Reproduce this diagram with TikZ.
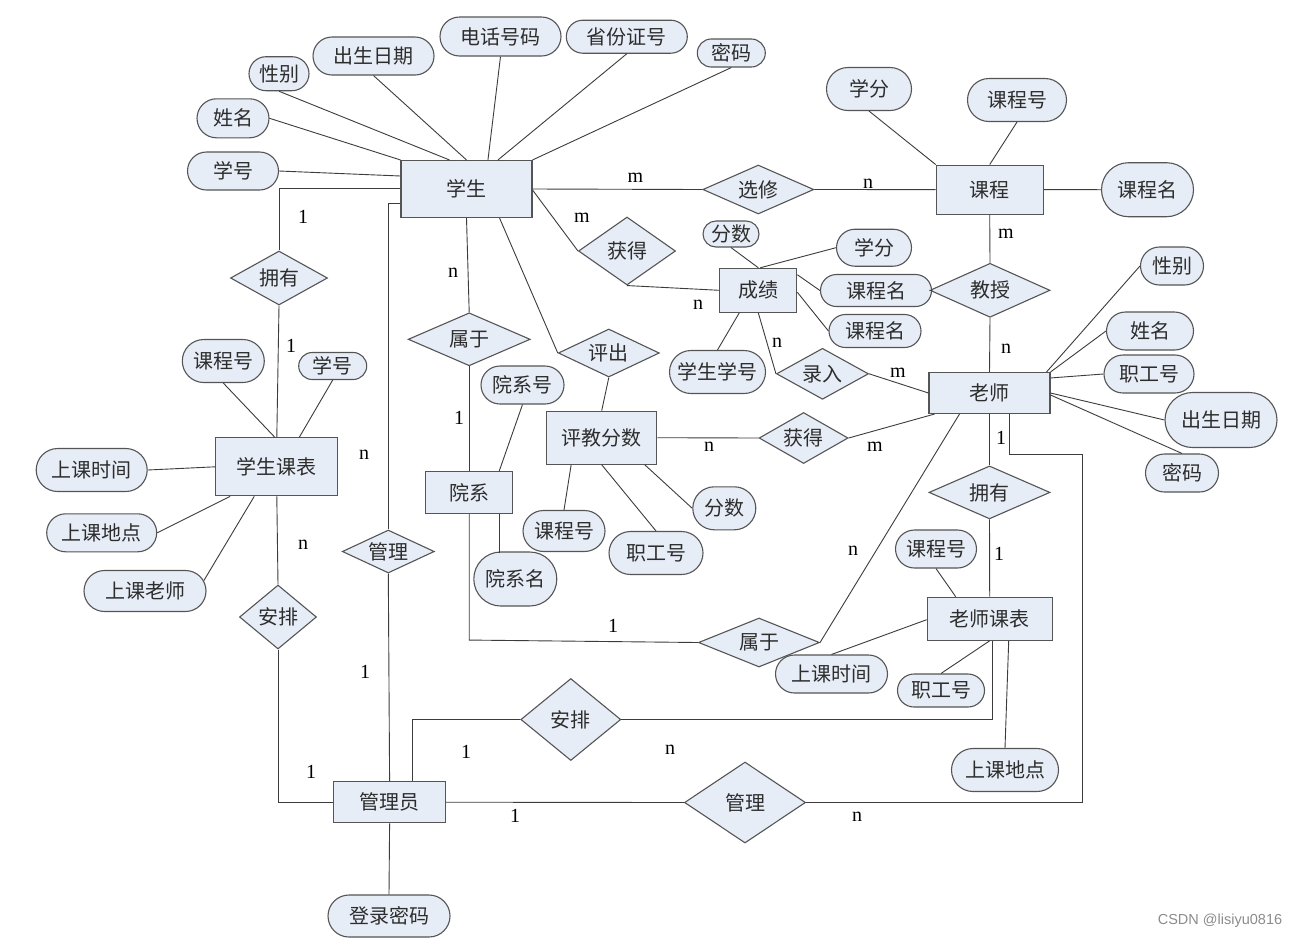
\documentclass[tikz,border=0pt]{standalone}
\usepackage{fontspec}
\setmainfont{Liberation Serif}
\newfontfamily\cjk{Noto Sans CJK SC}
\newfontfamily\wmfont{Liberation Sans}
\usetikzlibrary{shapes.geometric,shapes.misc,calc}
\definecolor{boxfill}{RGB}{231,237,247}
\definecolor{boxline}{RGB}{85,85,85}
\definecolor{linkline}{RGB}{60,60,60}
\definecolor{txt}{RGB}{45,45,45}
\begin{document}
\begin{tikzpicture}[x=1pt,y=-1pt,
 base/.style={draw=boxline, fill=boxfill, line width=1.1pt, inner sep=0pt, text=txt, font=\cjk\fontsize{20}{24}\selectfont},
 ent/.style n args={2}{base, rectangle, minimum width=#1pt, minimum height=#2pt},
 attr/.style n args={2}{base, rounded rectangle, minimum width=#1pt, minimum height=#2pt},
 rel/.style n args={3}{base, diamond, aspect=#3, minimum width=#1pt, minimum height=#2pt},
 lab/.style={font=\fontsize{20}{24}\selectfont, text=black, inner sep=0pt},
 link/.style={draw=linkline, line width=0.9pt}
]
\fill[white] (0,0) rectangle (1303,938);
\useasboundingbox (0,0) rectangle (1303,938);

% entities
\node[ent={131}{57}] (stu) at (466.5,189) {学生};
\node[ent={107}{49}] (course) at (989.7,189.6) {课程};
\node[ent={77}{44}] (score) at (758.3,290.3) {成绩};
\node[ent={121}{41}] (teacher) at (989.5,393) {老师};
\node[ent={122}{58}] (sct) at (276.8,466.8) {学生课表};
\node[ent={87}{42}] (dept) at (469.2,492.5) {院系};
\node[ent={110}{53}] (eval) at (601.7,437.7) {评教分数};
\node[ent={125}{43}] (tct) at (989.7,618.7) {老师课表};
\node[ent={112}{41}] (admin) at (389.6,802.2) {管理员};

% relationships
\node[rel={111}{49}{2}] (xuanxiu) at (758.3,189.5) {选修};
\node[rel={97}{68}{2}] (huode1) at (627,251) {获得};
\node[rel={120}{54}{2}] (jiaoshou) at (990,290.3) {教授};
\node[rel={97}{54}{2}] (yongyou1) at (279,278) {拥有};
\node[rel={122}{53}{2}] (shuyu1) at (469.2,339.3) {属于};
\node[rel={101}{48}{2}] (pingchu) at (608.8,353) {评出};
\node[rel={92}{51}{2}] (luru) at (822.5,373.8) {录入};
\node[rel={89}{51}{2}] (huode2) at (803.6,438) {获得};
\node[rel={121}{53}{2}] (yongyou2) at (989.5,492.4) {拥有};
\node[rel={92}{43}{2}] (guanli1) at (388.3,551.5) {管理};
\node[rel={77}{64}{1.2}] (anpai1) at (278,617) {安排};
\node[rel={121}{49}{2}] (shuyu2) at (759,642.5) {属于};
\node[rel={100}{82}{1.2}] (anpai2) at (570.8,719.5) {安排};
\node[rel={121}{81}{2}] (guanli2) at (745,802.5) {管理};

% student attributes
\node[attr={91}{38}] (s_xh) at (233,171) {学号};
\node[attr={72}{39}] (s_xm) at (233,118.3) {姓名};
\node[attr={60}{34}] (s_xb) at (279,73.7) {性别};
\node[attr={121}{38}] (s_csrq) at (373.5,56) {出生日期};
\node[attr={121}{39}] (s_dh) at (500.5,36.5) {电话号码};
\node[attr={121}{33}] (s_sf) at (626.8,36.7) {省份证号};
\node[attr={68}{28}] (s_mm) at (731.3,53) {密码};
% course attributes
\node[attr={85}{43}] (c_xf) at (869,89) {学分};
\node[attr={99}{43}] (c_kch) at (1017,100) {课程号};
\node[attr={92}{54}] (c_kcm) at (1147.5,189.7) {课程名};
% score attributes
\node[attr={56}{26}] (g_fs) at (731,234) {分数};
\node[attr={75}{37}] (g_xf) at (874,247.7) {学分};
\node[attr={111}{32}] (g_kcm1) at (876,290.5) {课程名};
\node[attr={92}{33}] (g_kcm2) at (875,331) {课程名};
\node[attr={96}{43}] (g_xsxh) at (717.5,372) {学生学号};
% teacher attributes
\node[attr={63}{38}] (t_xb) at (1172,266) {性别};
\node[attr={87}{38}] (t_xm) at (1150,331) {姓名};
\node[attr={90}{38}] (t_zgh) at (1149,374) {职工号};
\node[attr={112}{55}] (t_csrq) at (1221,420) {出生日期};
\node[attr={73}{38}] (t_mm) at (1182,473) {密码};
% student timetable attributes
\node[attr={82}{43}] (sc_kch) at (223.3,361) {课程号};
\node[attr={68}{27}] (sc_xh) at (332.7,366) {学号};
\node[attr={111}{43}] (sc_sksj) at (91.7,470) {上课时间};
\node[attr={110}{38}] (sc_skdd) at (101.7,532.8) {上课地点};
\node[attr={122}{41}] (sc_skls) at (145,591) {上课老师};
% department attributes
\node[attr={83}{38}] (d_yxh) at (522.5,385) {院系号};
\node[attr={83}{54}] (d_yxm) at (515.3,579) {院系名};
% evaluation attributes
\node[attr={82}{41}] (e_kch) at (564,531) {课程号};
\node[attr={94}{43}] (e_zgh) at (656,553) {职工号};
\node[attr={63}{43}] (e_fs) at (724.3,508.3) {分数};
% teacher timetable attributes
\node[attr={81}{38}] (tc_kch) at (936,549) {课程号};
\node[attr={112}{38}] (tc_sksj) at (831.5,674) {上课时间};
\node[attr={87}{33}] (tc_zgh) at (941,690.5) {职工号};
\node[attr={107}{43}] (tc_skdd) at (1005,770) {上课地点};
% admin attribute
\node[attr={122}{42}] (a_dlmm) at (389,916) {登录密码};

% student links
\draw[link] (s_xh.east) -- ($(stu.west)+(0,-13)$);
\draw[link] (s_xm.east) -- (stu.north west);
\draw[link] (s_xb.south) -- ($(stu.north west)+(49,0)$);
\draw[link] (s_csrq.south) -- (stu.north);
\draw[link] (s_dh.south) -- ($(stu.north west)+(87.5,0)$);
\draw[link] (s_sf.south) -- ($(stu.north west)+(97.5,0)$);
\draw[link] (s_mm.south) -- (stu.north east);
\draw[link] ($(stu.west)+(0,-1)$) -| (yongyou1.north);
\draw[link] ($(stu.south west)+(0,-15)$) -| (guanli1.north);
\draw[link] (guanli1.south) -- (admin.north);
\draw[link] (stu.east) -- (xuanxiu.west);
\draw[link] ($(stu.east)+(0,1)$) -- (huode1.west);
\draw[link] (huode1.south) -- (score.west);
\draw[link] ($(stu.south east)+(-33,0)$) -- (pingchu.west);
\draw[link] (pingchu.south) -- (eval.north);
\draw[link] (stu.south) -- (shuyu1.north);
\draw[link] (shuyu1.south) -- (dept.north);
% department
\draw[link] (dept.south) -- ++(0,126) -- (shuyu2.west);
\draw[link] (shuyu2.east) -- ($(teacher.south west)+(31,0)$);
\draw[link] (d_yxh.south) -- ($(dept.north east)+(-14,0)$);
\draw[link] ($(dept.south east)+(-14,0)$) -- ++(0,38.6);
% evaluation
\draw[link] (eval.east) -- (huode2.west);
\draw[link] (huode2.east) -- ($(teacher.south west)+(6,0)$);
\draw[link] (e_kch.north) -- ($(eval.south west)+(25,0)$);
\draw[link] (e_zgh.north) -- (eval.south);
\draw[link] (e_fs.west) -- ($(eval.south east)+(-12.5,0)$);
% score
\draw[link] (score.south) -- (luru.west);
\draw[link] (luru.east) -- (teacher.west);
\draw[link] (g_fs.south) -- (score.north);
\draw[link] (g_xf.west) -- ($(score.north)+(2,0)$);
\draw[link] (g_kcm1.west) -- ($(score.north east)+(0,7)$);
\draw[link] (g_kcm2.west) -- ($(score.east)+(0,2)$);
\draw[link] (g_xsxh.north) -- ($(score.south west)+(20,0)$);
\draw[link] (g_kcm1.east) -- (jiaoshou.west);
% course
\draw[link] (xuanxiu.east) -- (course.west);
\draw[link] (c_xf.south) -- (course.north west);
\draw[link] (c_kch.south) -- (course.north);
\draw[link] (course.east) -- (c_kcm.west);
\draw[link] (course.south) -- (jiaoshou.north);
\draw[link] (jiaoshou.south) -- (teacher.north);
% teacher
\draw[link] (t_xb.west) -- ($(teacher.north east)+(-4,0)$);
\draw[link] (t_xm.west) -- (teacher.north east);
\draw[link] (t_zgh.west) -- ($(teacher.north east)+(0,6)$);
\draw[link] (t_csrq.west) -- (teacher.east);
\draw[link] (t_mm.north) -- ($(teacher.east)+(0,2)$);
\draw[link] (teacher.south) -- (yongyou2.north);
\draw[link] (yongyou2.south) -- (tct.north);
\draw[link] ($(teacher.south)+(19.5,0)$) -- ++(0,40) -| ($(guanli2.east)+(276.5,0)$) -- (guanli2.east);
% teacher timetable
\draw[link] (tc_kch.south) -- ($(tct.north west)+(29,0)$);
\draw[link] (tc_sksj.north) -- ($(tct.west)+(0,1)$);
\draw[link] (tc_zgh.north) -- (tct.south);
\draw[link] (tc_skdd.north) -- ($(tct.south)+(19,0)$);
\draw[link] ($(tct.south)+(3,0)$) |- (anpai2.east);
\draw[link] (anpai2.west) -| ($(admin.north)+(22.5,0)$);
% admin
\draw[link] (admin.east) -- (guanli2.west);
\draw[link] (admin.south) -- (a_dlmm.north);
\draw[link] (admin.west) -| (anpai1.south);
% student timetable
\draw[link] (sct.south) -- (anpai1.north);
\draw[link] (yongyou1.south) -- (sct.north);
\draw[link] (sc_kch.south) -- ($(sct.north)+(-2,0)$);
\draw[link] (sc_xh.south) -- ($(sct.north)+(22.5,0)$);
\draw[link] (sc_sksj.east) -- (sct.west);
\draw[link] (sc_skdd.east) -- ($(sct.south west)+(15,0)$);
\draw[link] (sc_skls.10) -- ($(sct.south west)+(39,0)$);

% cardinality labels
\node[lab] (l1) at (635.4,178) {m};
\node[lab] (l2) at (582,218) {m};
\node[lab] (l3) at (868,184) {n};
\node[lab] (l4) at (698,305) {n};
\node[lab] (l5) at (1006,234) {m};
\node[lab] (l6) at (1006,349) {n};
\node[lab] (l7) at (777,343) {n};
\node[lab] (l8) at (898,373) {m};
\node[lab] (l9) at (709,447) {n};
\node[lab] (l10) at (875,447) {m};
\node[lab] (l11) at (1001,438) {1};
\node[lab] (l12) at (999,554) {1};
\node[lab] (l13) at (853,551) {n};
\node[lab] (l14) at (613,626) {1};
\node[lab] (l15) at (459,418) {1};
\node[lab] (l16) at (453,273) {n};
\node[lab] (l17) at (303,217) {1};
\node[lab] (l18) at (291,346) {1};
\node[lab] (l19) at (364,455) {n};
\node[lab] (l20) at (303,545) {n};
\node[lab] (l21) at (365,672) {1};
\node[lab] (l22) at (311,772) {1};
\node[lab] (l23) at (466,752) {1};
\node[lab] (l24) at (670,750) {n};
\node[lab] (l25) at (515,816) {1};
\node[lab] (l26) at (857,817) {n};

\node[font=\wmfont\fontsize{14.5}{16}\selectfont, text=black!45, inner sep=0pt] (wm) at (1220,921) {CSDN @lisiyu0816};
\end{tikzpicture}
\end{document}
